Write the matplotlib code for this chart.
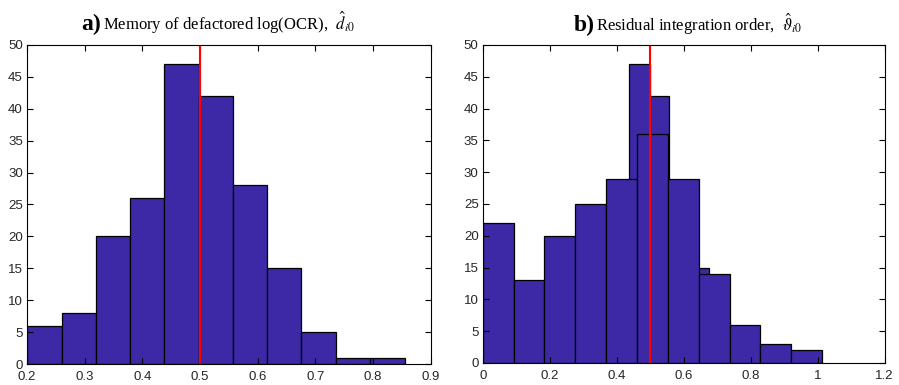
import numpy as np
import matplotlib
matplotlib.use("Agg")
import matplotlib.pyplot as plt

# panel a: memory of defactored log(OCR)
a_edges = [0.200, 0.260, 0.319, 0.379, 0.438, 0.498, 0.557, 0.617, 0.676, 0.736, 0.795, 0.855]
a_counts = [6, 8, 20, 26, 47, 42, 28, 15, 5, 1, 1]

# panel b: residual integration order
b_edges = [0.0, 0.0921, 0.1842, 0.2763, 0.3684, 0.4605, 0.5526, 0.6447, 0.7368, 0.8289, 0.921, 1.0131]
b_counts = [22, 13, 20, 25, 29, 36, 29, 14, 6, 3, 2]

ref_value = 0.5
bar_color = "#3D28A5"

plt.rcParams["mathtext.fontset"] = "stix"
plt.rcParams["font.family"] = "Liberation Serif"


def draw_hist(ax, edges, counts):
    edges = np.asarray(edges)
    ax.bar(edges[:-1], counts, width=np.diff(edges), align="edge",
           color=bar_color, edgecolor="black", linewidth=0.9)


def style_axes(ax, xlim, xticks):
    ax.set_xlim(*xlim)
    ax.set_ylim(0, 50)
    ax.set_xticks(xticks)
    ax.set_yticks(np.arange(0, 51, 5))
    ax.tick_params(direction="in", top=True, right=True, length=4, width=0.8,
                   labelsize=9.5, labelcolor="#262626", pad=3)
    ax.tick_params(axis="x", pad=5)
    for lab in ax.get_xticklabels() + ax.get_yticklabels():
        lab.set_family("Liberation Sans")
    for s in ax.spines.values():
        s.set_linewidth(0.8)


fig = plt.figure(figsize=(8.99, 3.85), dpi=100)
ax1 = fig.add_axes([0.030, 0.0545, 0.449, 0.829])
ax2 = fig.add_axes([0.537, 0.0572, 0.447, 0.826])

draw_hist(ax1, a_edges, a_counts)
ax1.axvline(ref_value, color="red", linewidth=1.5)
style_axes(ax1, (0.2, 0.9), np.arange(0.2, 0.91, 0.1))
ax1.set_xticklabels(["0.2", "0.3", "0.4", "0.5", "0.6", "0.7", "0.8", "0.9"])

# panel b also shows panel a's bars underneath
draw_hist(ax2, a_edges, a_counts)
draw_hist(ax2, b_edges, b_counts)
ax2.axvline(ref_value, color="red", linewidth=1.5)
style_axes(ax2, (0, 1.2), np.arange(0, 1.21, 0.2))
ax2.set_xticklabels(["0", "0.2", "0.4", "0.6", "0.8", "1", "1.2"])

ax1.text(0.183, 1.045, "a)", transform=ax1.transAxes, ha="right", va="baseline",
         fontsize=17, fontweight="bold")
ax1.text(0.188, 1.045, r"Memory of defactored log(OCR),  $\hat{d}_{i0}$",
         transform=ax1.transAxes, ha="left", va="baseline", fontsize=12)

ax2.text(0.278, 1.045, "b)", transform=ax2.transAxes, ha="right", va="baseline",
         fontsize=17, fontweight="bold")
ax2.text(0.281, 1.045, r"Residual integration order,  $\hat{\vartheta}_{i0}$",
         transform=ax2.transAxes, ha="left", va="baseline", fontsize=12)

fig.savefig("out.png", dpi=100)
